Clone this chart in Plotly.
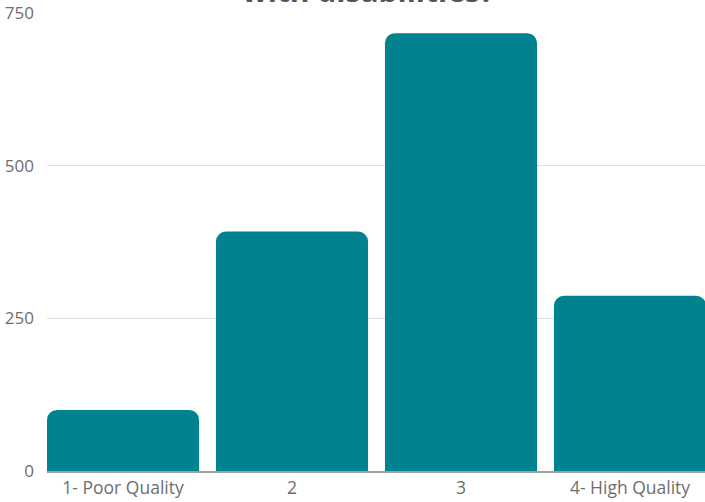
import plotly.graph_objects as go

# Survey responses by quality rating
categories = ["1- Poor Quality", "2", "3", "4- High Quality"]
counts = [100, 392, 717, 287]
y_ticks = [0, 250, 500, 750]

title_text = "<b>with disabilities?</b>"
bar_color = "#00838F"
font_family = "Open Sans"

fig = go.Figure(
    go.Bar(
        x=categories,
        y=counts,
        marker=dict(color=bar_color, line=dict(width=0)),
        hoverinfo="x+y",
    )
)

fig.update_layout(
    width=705,
    height=502,
    margin=dict(l=47, r=0, t=13, b=31),
    paper_bgcolor="white",
    plot_bgcolor="white",
    bargap=0.1,
    barcornerradius=10,
    showlegend=False,
    font=dict(family=font_family, color="#6e6e6e", size=17),
    annotations=[
        dict(
            text=title_text,
            xref="paper",
            yref="paper",
            x=0.488,
            y=1,
            xanchor="center",
            yanchor="bottom",
            yshift=0,
            showarrow=False,
            font=dict(family=font_family, size=30, color="#555555"),
        )
    ],
)

fig.update_xaxes(
    type="category",
    range=[-0.45, 3.444],
    showgrid=False,
    showline=True,
    linecolor="#9e9e9e",
    linewidth=2,
    ticks="",
    tickfont=dict(size=17.5, color="#6e6e6e"),
    fixedrange=True,
)

fig.update_yaxes(
    range=[0, 750],
    tickvals=y_ticks,
    ticktext=[str(v) for v in y_ticks],
    showgrid=True,
    gridcolor="#dddddd",
    gridwidth=1,
    zeroline=False,
    showline=False,
    ticks="",
    ticklabelstandoff=12,
    tickfont=dict(size=17, color="#6e6e6e"),
    fixedrange=True,
)

fig.write_html("out.html")
